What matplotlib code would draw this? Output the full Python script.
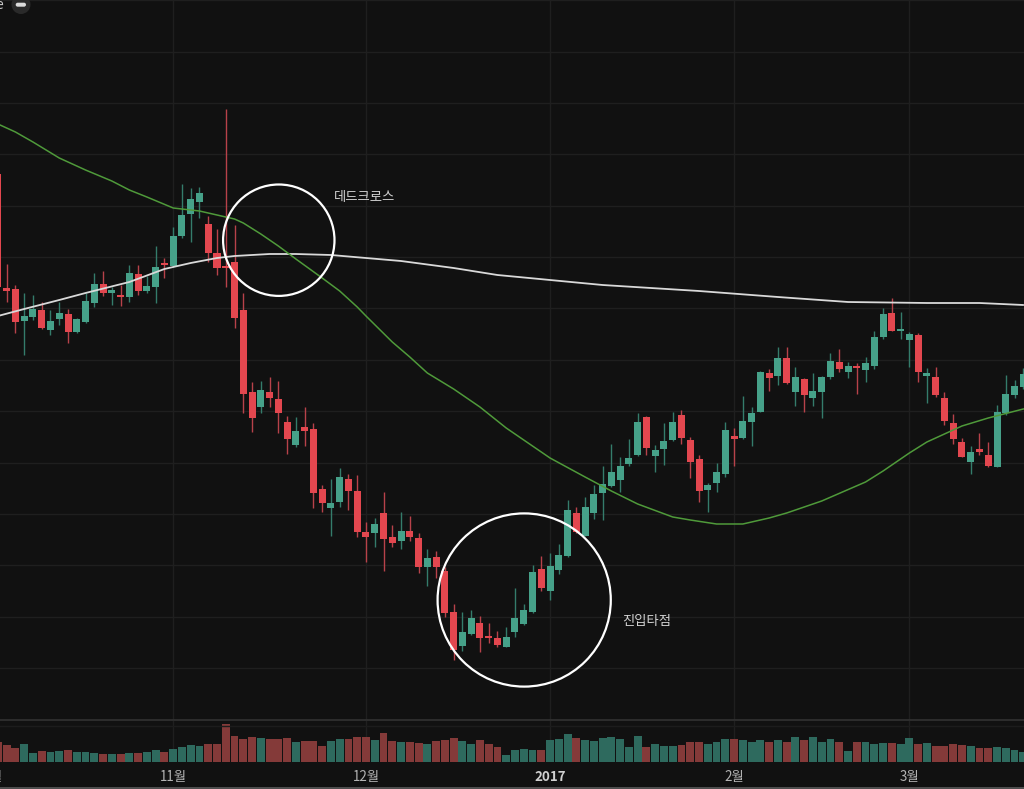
import matplotlib
matplotlib.use('Agg')
import matplotlib.pyplot as plt
import numpy as np
from matplotlib.patches import Circle, FancyBboxPatch
from matplotlib.transforms import ScaledTranslation, blended_transform_factory
from matplotlib.lines import Line2D

plt.rcParams['font.family'] = ['Noto Sans CJK KR', 'DejaVu Sans']

# ---------------- data (daily candles, arbitrary price units) ----------------
opens = [546, 432, 431, 399, 403, 410, 390, 401, 406, 388,
         398, 417, 436, 427, 425, 423, 446, 429, 433, 457,
         454, 484, 506, 518, 496, 467, 453, 458, 410, 328,
         313, 328, 321, 298, 275, 293, 291, 231, 212, 218,
         241, 229, 188, 187, 207, 183, 179, 189, 182, 153,
         163, 149, 108, 74, 86, 97, 84, 82, 73, 88,
         96, 108, 151, 129, 150, 164, 207, 184, 207, 227,
         234, 240, 256, 265, 303, 264, 271, 280, 305, 280,
         261, 230, 237, 246, 284, 282, 298, 308, 347, 344,
         362, 328, 341, 322, 328, 343, 358, 348, 354, 350,
         354, 383, 407, 389, 380, 385, 344, 343, 322, 297,
         278, 258, 271, 265, 253, 307, 325, 333]
highs = [548, 456, 435, 427, 425, 418, 410, 418, 411, 402,
         427, 447, 449, 433, 435, 455, 455, 444, 474, 462,
         493, 536, 532, 533, 504, 491, 611, 495, 427, 338,
         339, 343, 339, 304, 303, 313, 297, 235, 241, 252,
         246, 245, 198, 202, 228, 195, 208, 204, 187, 171,
         169, 153, 116, 108, 110, 104, 97, 89, 93, 132,
         116, 155, 164, 167, 176, 220, 213, 223, 235, 254,
         276, 263, 281, 307, 304, 275, 297, 308, 310, 283,
         265, 237, 257, 298, 292, 324, 313, 349, 351, 373,
         373, 353, 342, 347, 344, 367, 371, 358, 357, 363,
         389, 412, 422, 408, 388, 387, 352, 353, 328, 306,
         282, 274, 287, 278, 315, 345, 340, 352]
lows = [430, 418, 387, 365, 400, 391, 385, 395, 377, 387,
        397, 413, 424, 415, 414, 418, 425, 427, 417, 442,
        453, 482, 478, 502, 458, 445, 433, 392, 307, 288,
        307, 313, 287, 266, 273, 274, 212, 208, 184, 213,
        210, 183, 158, 173, 149, 173, 171, 179, 147, 134,
        142, 103, 60, 69, 85, 68, 77, 73, 73, 83,
        95, 107, 129, 120, 146, 163, 187, 184, 201, 200,
        233, 228, 254, 264, 265, 248, 255, 279, 276, 242,
        218, 208, 228, 243, 254, 281, 274, 308, 329, 335,
        336, 314, 308, 314, 302, 341, 348, 342, 326, 338,
        351, 381, 389, 381, 353, 338, 317, 323, 295, 276,
        263, 246, 265, 253, 253, 305, 322, 331]
closes = [433, 429, 398, 404, 411, 392, 399, 407, 388, 401,
          419, 436, 427, 430, 423, 447, 429, 434, 453, 455,
          484, 505, 521, 527, 467, 452, 452, 402, 326, 302,
          330, 322, 307, 281, 289, 289, 227, 217, 217, 243,
          229, 188, 183, 196, 181, 177, 189, 183, 153, 162,
          153, 107, 70, 88, 102, 82, 82, 75, 83, 102,
          110, 148, 132, 154, 165, 210, 188, 213, 226, 236,
          248, 254, 262, 298, 272, 270, 279, 298, 282, 258,
          229, 235, 248, 290, 281, 299, 307, 348, 342, 362,
          337, 343, 325, 329, 343, 359, 351, 354, 352, 357,
          383, 406, 389, 391, 386, 348, 347, 325, 299, 281,
          263, 268, 268, 254, 308, 326, 334, 346]
volumes = [20, 16.7, 13.3, 17.3, 8.3, 10.7, 9.3, 10.3, 11.3, 9.7,
           9.7, 8.7, 8, 7.7, 7.7, 8.7, 8.7, 10, 11.3, 10,
           13, 14.7, 16.3, 15.3, 17.3, 18, 37.7, 25.7, 23, 25,
           23.7, 22.3, 22.3, 23.3, 19.3, 20.3, 20.3, 15.3, 21, 23,
           22.3, 25, 25, 21.7, 29, 21, 19.3, 19.3, 18.7, 17.7,
           20.3, 21.7, 23.7, 20.7, 18, 21.7, 17.7, 14.7, 6.7, 11.3,
           12.3, 11.3, 11.3, 21.7, 23, 27.7, 23.7, 21.7, 20.3, 23.7,
           24.3, 22.3, 14.7, 25.7, 14.7, 17.3, 16, 16, 16.7, 20,
           19.3, 18, 20, 23, 22.3, 21.7, 20, 21.7, 19.3, 21.7,
           20, 24.7, 22, 24.7, 19.3, 23, 20, 11, 19.3, 20,
           18, 18.7, 18.7, 18, 23.7, 17.3, 18.7, 15.3, 15.3, 17.3,
           16.7, 15.3, 13.3, 14, 14.7, 14, 11.3, 9.7]

# moving averages sampled along the chart (candle index, value)
ma_green_idx = [0, 2, 4, 7, 10, 13, 15, 17, 20, 23, 25, 27, 28, 30, 32, 34, 37, 39, 41, 42,
                45, 47, 49, 52, 55, 58, 60, 63, 67, 70, 73, 77, 79, 82, 85, 88, 90, 94, 99, 101,
                104, 106, 110, 113, 117]
ma_green_val = [596, 588, 578, 562, 550, 539, 530, 523, 512, 509, 505, 501, 497, 486, 474, 461, 442, 429, 413, 404,
                378, 363, 347, 331, 313, 292, 280, 262, 243, 229, 216, 203, 200, 196, 196, 202, 207, 219, 238, 249,
                267, 278, 294, 302, 311]
ma_white_idx = [0, 3, 7, 10, 15, 19, 22, 25, 27, 31, 34, 38, 42, 46, 52, 57, 69, 80, 89, 97, 106, 112, 117]
ma_white_val = [404, 411, 420, 427, 438, 451, 457, 462, 464, 466, 466, 465, 462, 459, 452, 445, 435, 429, 423, 418,
                417, 417, 415]

# x-axis month labels (candle index, text)
tick_idx = [-1, 20, 42, 63, 84, 104]
tick_labels = ['10월', '11월', '12월', '2017', '2월', '3월']

# annotations: (candle index, price, radius in px)
circle_dead = (32.05, 479.8, 55.7)
circle_entry = (60.05, 120.0, 86.6)
label_dead = (38.35, 523.5, '데드크로스')
label_entry = (71.27, 99.2, '진입타점')

# ---------------- style ----------------
BG = '#111111'
GRID = '#1f1f1f'
UP = '#46a189'
DOWN = '#e3474f'
UP_WICK = '#347c6b'
DOWN_WICK = '#b8424a'
UP_VOL = '#2e6a5e'
DOWN_VOL = '#843a39'

W, H = 1024, 789
fig = plt.figure(figsize=(W / 100, H / 100), dpi=100, facecolor=BG)
main_h = 719.5
ax = fig.add_axes([0, (H - main_h) / H, 1, main_h / H])
vol_top, vol_bot = 720.5, 761.7
axv = fig.add_axes([0, (H - vol_bot) / H, 1, (vol_bot - vol_top) / H], sharex=ax)

for a in (ax, axv):
    a.set_facecolor(BG)
    for s in a.spines.values():
        s.set_visible(False)
    a.tick_params(length=0, labelbottom=False, labelleft=False)

o = np.array(opens, float)
h = np.array(highs, float)
l = np.array(lows, float)
c = np.array(closes, float)
idx = np.arange(len(o))
up = c >= o
body_col = np.where(up, UP, DOWN)
wick_col = np.where(up, UP_WICK, DOWN_WICK)

ax.set_xlim(0.24, 117.08)
ax.set_ylim(0.5, 720)
axv.set_ylim(0, vol_bot - vol_top)

grid_prices = np.arange(52.1, 721, 51.35)
ax.set_yticks(grid_prices)
ax.set_xticks(tick_idx[1:])
ax.grid(True, color=GRID, lw=1.0, zorder=0)
axv.set_yticks([])
axv.grid(True, axis='x', color=GRID, lw=1.0, zorder=0)

# wicks
ax.vlines(idx, l, h, colors=wick_col, lw=1.0, zorder=2)
# bodies
bottoms = np.minimum(o, c)
heights = np.maximum(np.abs(c - o), 1.6)
ax.bar(idx, heights, bottom=bottoms, width=0.8, color=body_col, linewidth=0, zorder=3)

# moving averages
ax.plot(ma_white_idx, ma_white_val, color='#d9d9d9', lw=1.3, zorder=4,
        solid_joinstyle='round', solid_capstyle='round')
ax.plot(ma_green_idx, ma_green_val, color='#4f9a3a', lw=1.1, zorder=4, solid_joinstyle='round')

# volume
axv.bar(idx, volumes, width=0.9, color=np.where(up, UP_VOL, DOWN_VOL), linewidth=0, zorder=2)

# annotation circles (true circles in pixel space)
for (cx, cy, r) in (circle_dead, circle_entry):
    circ = Circle((0, 0), r / 100.0, fill=False, edgecolor='white', lw=1.6,
                  transform=fig.dpi_scale_trans + ScaledTranslation(cx, cy, ax.transData), zorder=6)
    ax.add_patch(circ)
for (tx, ty, s) in (label_dead, label_entry):
    ax.text(tx, ty, s, color='#d2d2d2', fontsize=9.6, ha='left', va='center', zorder=7)

# x labels
lab_tr = blended_transform_factory(axv.transData, fig.transFigure)
for t, s in zip(tick_idx, tick_labels):
    bold = s == '2017'
    axv.text(t, (H - 777) / H, s, transform=lab_tr, ha='center', va='center',
             fontsize=9.6, color='#d0d0d0' if bold else '#b4b4b4',
             fontweight='bold' if bold else 'normal', clip_on=False)

# pane separators / borders
fig.add_artist(Line2D([0, 1], [(H - 720) / H] * 2, transform=fig.transFigure, color='#303030', lw=1.3))
fig.add_artist(Line2D([0, 1], [(H - 725.5) / H] * 2, transform=fig.transFigure, color='#1c1c1c', lw=1.0))
fig.add_artist(Line2D([0, 1], [(H - 788.3) / H] * 2, transform=fig.transFigure, color='#505050', lw=1.4))

# top-left legend remnants
fig.text(3.5 / W, (H - 5) / H, 'e', color='#c8c8c8', fontsize=10, ha='right', va='center')
fig.add_artist(Circle((21 / 100, (H - 4.5) / 100), 0.095, transform=fig.dpi_scale_trans,
                      facecolor='#2a2a2a', edgecolor='none'))
fig.add_artist(FancyBboxPatch((15.7 / 100, (H - 6.7) / 100), 0.103, 0.04,
                              boxstyle='round,pad=0,rounding_size=0.02', transform=fig.dpi_scale_trans,
                              facecolor='#dcdcdc', edgecolor='none'))

fig.savefig('out.png', dpi=100, facecolor=BG)
